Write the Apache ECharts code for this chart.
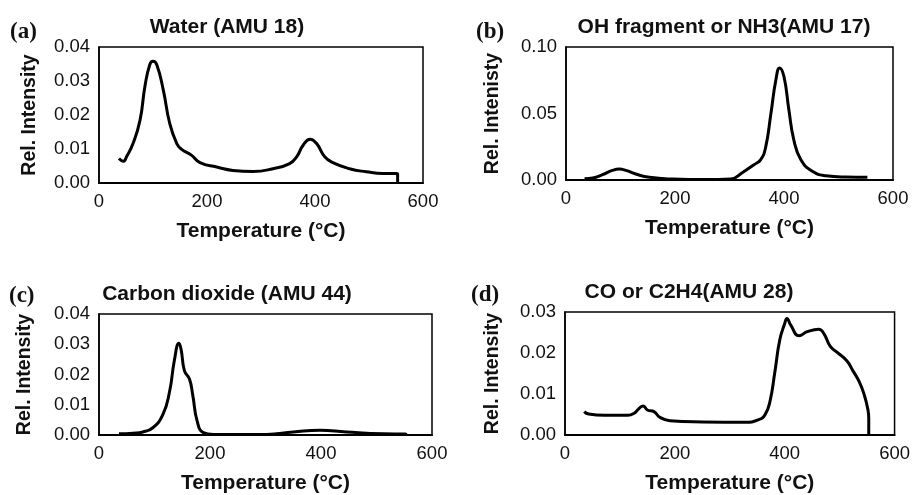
<!DOCTYPE html>
<html>
<head>
<meta charset="utf-8">
<script src="https://cdn.jsdelivr.net/npm/echarts@6/dist/echarts.min.js"></script>
<style>html,body{margin:0;padding:0;background:#fff}#c{width:913px;height:495px}</style>
</head>
<body>
<div id="c"></div>
<script>
// Panel titles and labels
const panelLabels = ['(a)', '(b)', '(c)', '(d)'];
const panelTitles = ['Water (AMU 18)', 'OH fragment or NH3(AMU 17)', 'Carbon dioxide (AMU 44)', 'CO or C2H4(AMU 28)'];
const yNames = ['Rel. Intensity', 'Rel. Intenisty', 'Rel. Intensity', 'Rel. Intensity'];
const xName = 'Temperature (°C)';
const xTicks = [0, 200, 400, 600];
const yMax = [0.04, 0.10, 0.04, 0.03];
const yStep = [0.01, 0.05, 0.01, 0.01];

// (a) Water AMU 18
const waterT = [37, 45, 51, 63, 76, 85, 94, 100, 107, 119, 131, 144, 153, 171, 187, 218, 248, 285, 322, 353, 366, 378, 391, 403, 418, 433, 464, 495, 526, 551, 553, 553];
const waterV = [0.0072, 0.0064, 0.0077, 0.0116, 0.0185, 0.0284, 0.0348, 0.0358, 0.0348, 0.0274, 0.0175, 0.0116, 0.0099, 0.0082, 0.0060, 0.0047, 0.0037, 0.0034, 0.0042, 0.0057, 0.0077, 0.0111, 0.0129, 0.0116, 0.0077, 0.0060, 0.0042, 0.0033, 0.0028, 0.0028, 0.0027, 0.0];

// (b) OH fragment or NH3 AMU 17
const ohT = [34, 49, 67, 85, 98, 110, 128, 153, 195, 256, 302, 324, 345, 357, 366, 376, 385, 392, 400, 409, 418, 431, 452, 477, 513, 553];
const ohV = [0.0010, 0.0015, 0.0040, 0.0072, 0.0082, 0.0072, 0.0045, 0.0020, 0.0007, 0.0003, 0.0007, 0.0057, 0.0115, 0.0152, 0.0240, 0.0500, 0.0750, 0.0843, 0.0776, 0.0526, 0.0302, 0.0152, 0.0065, 0.0032, 0.0022, 0.0020];

// (c) Carbon dioxide AMU 44
const co2T = [36, 61, 79, 97, 115, 127, 136, 144, 148, 154, 163, 169, 177, 188, 206, 302, 350, 398, 446, 512, 552, 554];
const co2V = [0.0004, 0.0006, 0.0010, 0.0024, 0.0067, 0.0142, 0.0249, 0.0303, 0.0282, 0.0212, 0.0185, 0.0131, 0.0045, 0.0008, 0.0002, 0.0002, 0.0010, 0.0016, 0.0010, 0.0004, 0.0003, 0.0];

// (d) CO or C2H4 AMU 28
const coT = [35, 43, 72, 114, 126, 135, 142, 150, 162, 173, 191, 251, 328, 352, 364, 373, 382, 391, 400, 404, 411, 426, 441, 462, 471, 483, 495, 513, 524, 536, 545, 551, 553, 553];
const coV = [0.0057, 0.0051, 0.0048, 0.0048, 0.0053, 0.0065, 0.0071, 0.0061, 0.0057, 0.0043, 0.0035, 0.0032, 0.0031, 0.0037, 0.0049, 0.0081, 0.0153, 0.0232, 0.0272, 0.0284, 0.0268, 0.0242, 0.0252, 0.0258, 0.0248, 0.0216, 0.0202, 0.0181, 0.0157, 0.0129, 0.0097, 0.0065, 0.0041, 0.0];

const seriesT = [waterT, ohT, co2T, coT];
const seriesV = [waterV, ohV, co2V, coV];

// layout
const grids = [
  {left: 99, top: 47, width: 324, height: 136},
  {left: 566, top: 47, width: 327, height: 133},
  {left: 99, top: 314, width: 333, height: 124},
  {left: 565, top: 312, width: 337, height: 126}
];
const yNameGap = [59, 63, 64, 62];
const titlePos = [[227, 27], [724, 27], [227, 294], [689, 292]];
const labelPos = [[10, 32], [476, 32], [9, 296], [471, 295]];

const FONT = '"Liberation Sans", Arial, sans-serif';
const option = {
  animation: false,
  grid: grids.map(g => Object.assign({show: true, borderColor: '#000', borderWidth: 1.5, backgroundColor: 'transparent'}, g)),
  xAxis: grids.map((g, i) => ({
    type: 'value', gridIndex: i, min: xTicks[0], max: xTicks[xTicks.length - 1], interval: xTicks[1] - xTicks[0],
    splitLine: {show: false}, axisTick: {show: false},
    axisLine: {lineStyle: {color: '#000', width: 2}},
    axisLabel: {color: '#111', fontSize: 18.5, fontFamily: FONT, margin: 9},
    name: xName, nameLocation: 'middle', nameGap: 38,
    nameTextStyle: {color: '#111', fontSize: 21, fontWeight: 'bold', fontFamily: FONT}
  })),
  yAxis: grids.map((g, i) => ({
    type: 'value', gridIndex: i, min: 0, max: yMax[i], interval: yStep[i],
    splitLine: {show: false}, axisTick: {show: false},
    axisLine: {show: true, lineStyle: {color: '#000', width: 1.5}},
    axisLabel: {color: '#111', fontSize: 18.5, fontFamily: FONT, margin: 9, formatter: v => v.toFixed(2)},
    name: yNames[i], nameLocation: 'middle', nameRotate: 90, nameGap: yNameGap[i],
    nameTextStyle: {color: '#111', fontSize: 19.5, fontWeight: 'bold', fontFamily: FONT}
  })),
  graphic: [].concat(
    panelTitles.map((t, i) => ({type: 'text', x: titlePos[i][0], y: titlePos[i][1],
      style: {text: t, fill: '#111', font: 'bold 21px ' + FONT, textAlign: 'center', textVerticalAlign: 'middle'}})),
    panelLabels.map((t, i) => ({type: 'text', x: labelPos[i][0], y: labelPos[i][1],
      style: {text: t, fill: '#111', font: 'bold 23px "Liberation Serif", "Times New Roman", serif', textAlign: 'left', textVerticalAlign: 'middle'}}))
  ),
  series: seriesT.map((xs, i) => ({
    type: 'line', xAxisIndex: i, yAxisIndex: i,
    data: xs.map((x, k) => [x, seriesV[i][k]]),
    showSymbol: false, smooth: 0.5,
    lineStyle: {color: '#000', width: 3}, itemStyle: {color: '#000'}
  }))
};
echarts.init(document.getElementById('c')).setOption(option);
</script>
</body>
</html>
